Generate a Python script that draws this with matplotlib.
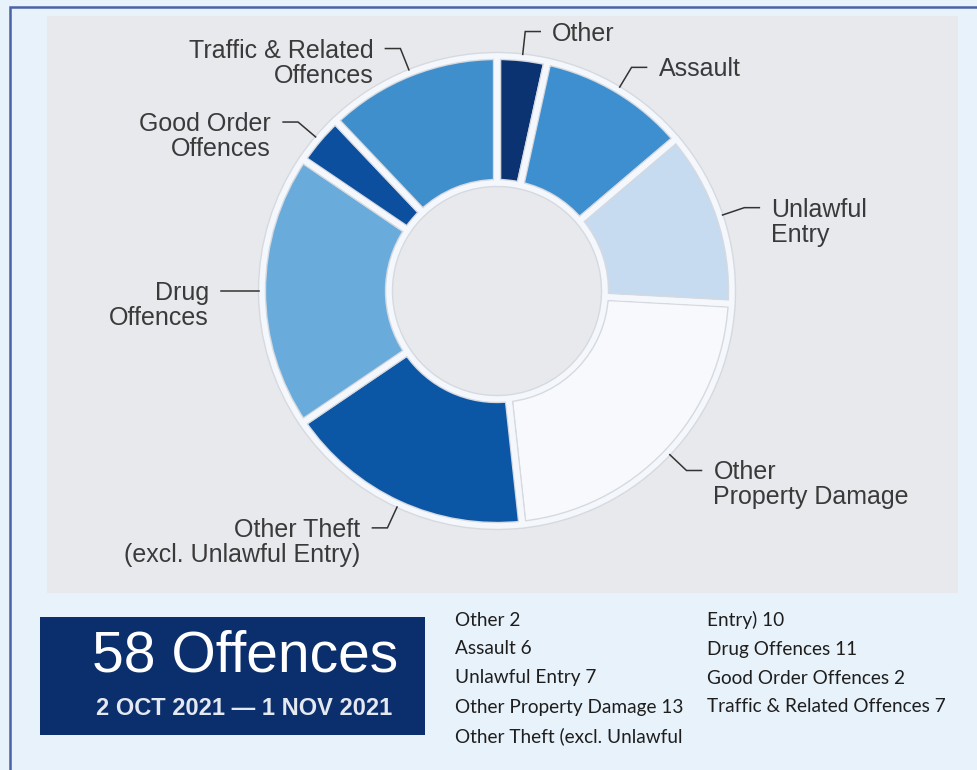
import textwrap
import numpy as np
import matplotlib
matplotlib.use('Agg')
import matplotlib.pyplot as plt
from matplotlib.patches import Rectangle

# data
categories = ['Other', 'Assault', 'Unlawful Entry', 'Other Property Damage',
              'Other Theft (excl. Unlawful Entry)', 'Drug Offences',
              'Good Order Offences', 'Traffic & Related Offences']
counts = [2, 6, 7, 13, 10, 11, 2, 7]
chart_labels = ['Other', 'Assault', 'Unlawful\nEntry', 'Other\nProperty Damage',
                'Other Theft\n(excl. Unlawful Entry)', 'Drug\nOffences',
                'Good Order\nOffences', 'Traffic & Related\nOffences']
slice_colors = ['#0c3371', '#3d8fcf', '#c6dbf0', '#f7f9fd',
                '#0b57a6', '#69acdb', '#0c4f9e', '#3f8fcd']
period = '2 OCT 2021 \u2014 1 NOV 2021'

W, H = 977, 770


def py(y):
    # pixel row -> data y
    return H - y


fig = plt.figure(figsize=(W / 100, H / 100), dpi=100)
fig.patch.set_facecolor('#e8f2fa')
ax = fig.add_axes([0, 0, 1, 1])

# frame, grey chart panel, navy box
ax.add_patch(Rectangle((9.5, -230), 1100, py(6.5) + 230, fill=False,
                       edgecolor='#4a62a6', lw=1.8, zorder=1))
ax.add_patch(Rectangle((47, py(593)), 911, 577, facecolor='#e8e9ed',
                       edgecolor='none', zorder=1))
ax.add_patch(Rectangle((40, py(735)), 385, 118, facecolor='#0b2f6d',
                       edgecolor='none', zorder=1))

# donut: grey outline under a thinner white gap line
cx, cy = 497, py(291)
R, hole = 235, 108
wedges, _ = ax.pie(counts, colors=slice_colors, startangle=90, counterclock=False,
                   center=(cx, cy), radius=R,
                   wedgeprops=dict(width=R - hole, edgecolor='#d6d9df',
                                   linewidth=6, joinstyle='round'))
ax.pie(counts, colors=['none'] * len(counts), startangle=90, counterclock=False,
       center=(cx, cy), radius=R,
       wedgeprops=dict(width=R - hole, edgecolor='#f4f7fb',
                       linewidth=4, joinstyle='round'))

# labels with connectors
for w, lab in zip(wedges, chart_labels):
    ang = np.deg2rad((w.theta1 + w.theta2) / 2)
    ux, uy = np.cos(ang), np.sin(ang)
    side = 1 if ux >= 0 else -1
    x0, y0 = cx + 238 * ux, cy + 238 * uy
    x1, y1 = cx + 261 * ux, cy + 261 * uy
    x2 = x1 + side * 15
    ax.plot([x0, x1, x2], [y0, y1, y1], color='#333333', lw=1.1,
            solid_joinstyle='miter', zorder=3)
    ha = 'left' if side > 0 else 'right'
    for k, part in enumerate(lab.split('\n')):
        ax.text(x2 + side * 12, y1 - 9 - k * 25, part, ha=ha, va='baseline',
                fontsize=18, family='Liberation Sans', color='#3a3a3a', zorder=4)

# headline box
ax.text(245, py(672), f'{sum(counts)} Offences', ha='center', va='baseline',
        fontsize=41, family='Liberation Sans', color='white', zorder=4)
ax.text(244, py(715), period, ha='center', va='baseline', fontsize=17,
        family='Liberation Sans', fontweight='bold', color='#e4e8f0', zorder=4)

# text list in two columns
lines = []
for c, v in zip(categories, counts):
    lines += textwrap.wrap(f'{c} {v}', 28)
for i, s in enumerate(lines):
    col, row = divmod(i, 5)
    ax.text([455, 707][col], py(620 + row * 29), s, ha='left', va='center',
            fontsize=13.7, family='Lato', color='#1e1e1e', zorder=4)

ax.set_xlim(0, W)
ax.set_ylim(0, H)
ax.set_aspect('equal')
ax.axis('off')

fig.savefig('out.png', dpi=100, facecolor=fig.get_facecolor())
